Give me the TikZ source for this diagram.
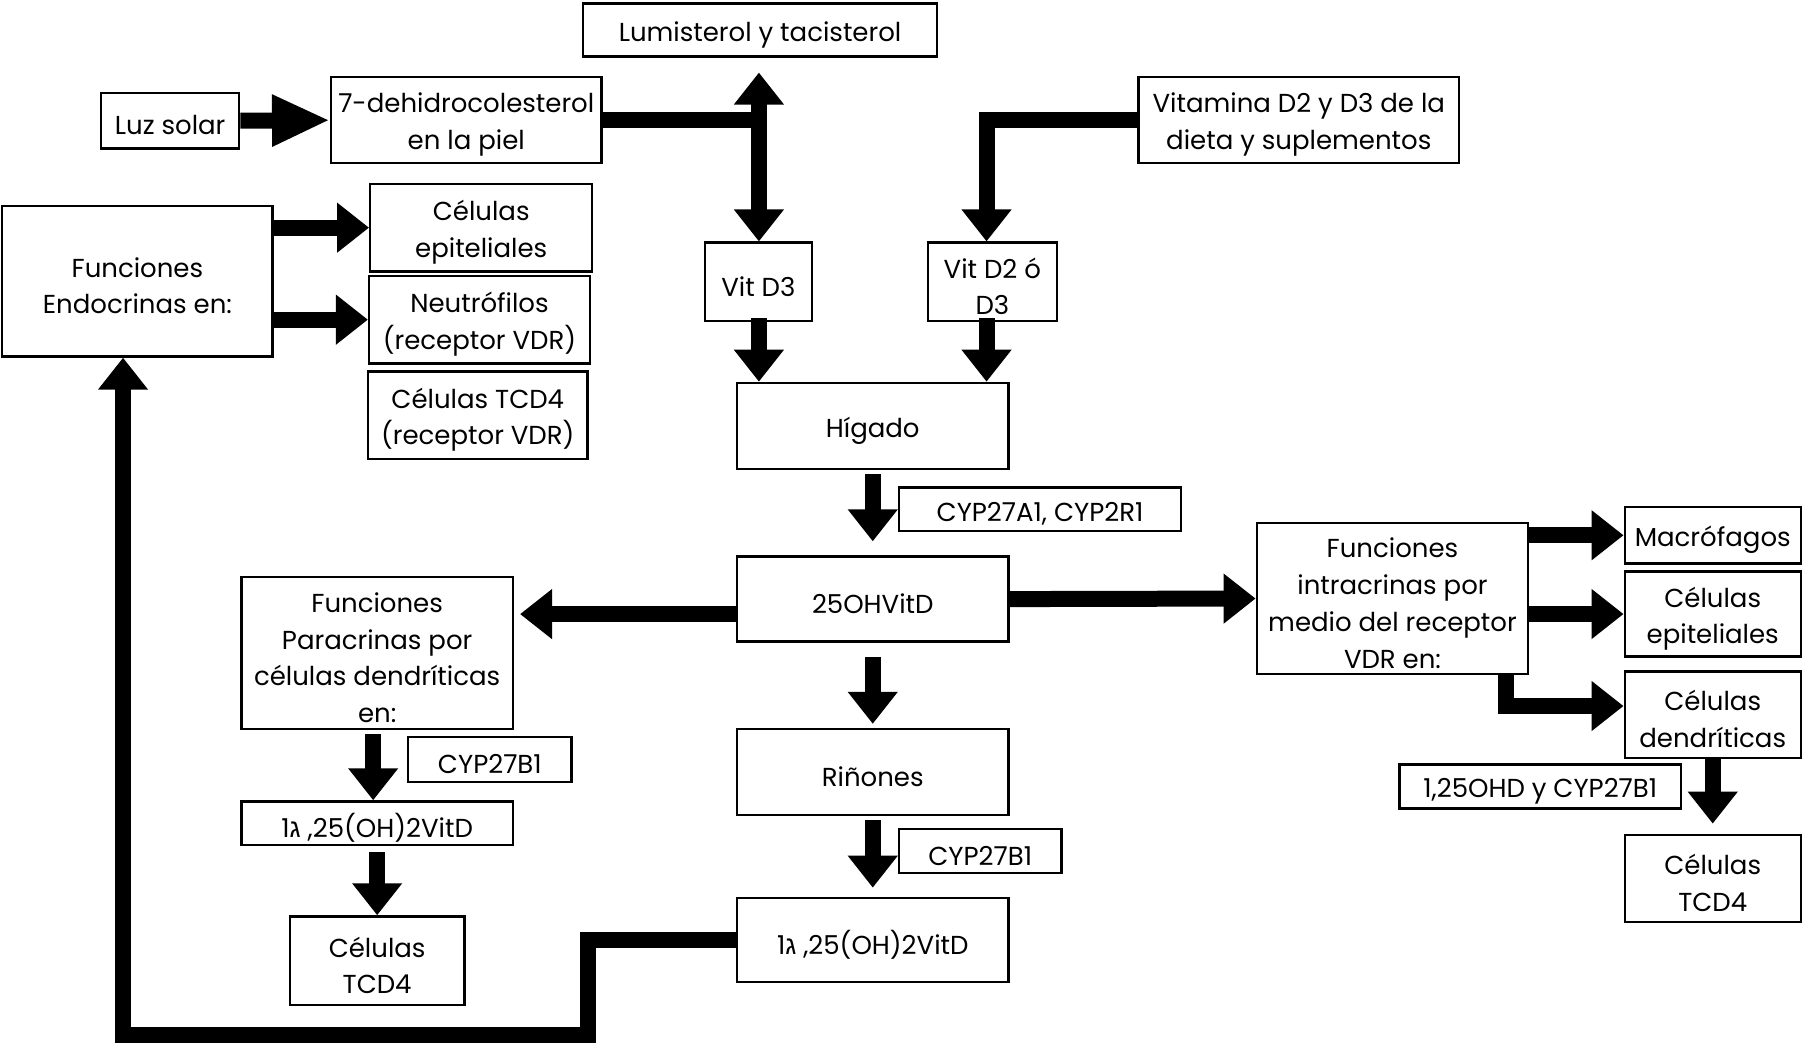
\documentclass[tikz,border=0pt]{standalone}
\usepackage{fontspec}
\setmainfont{Poppins}
\newfontfamily\hebfont[Script=Hebrew]{Liberation Sans}
\usetikzlibrary{arrows.meta}
\tikzset{
 box/.style={draw, line width=1.2pt, inner sep=0pt},
 txt/.style={inner sep=0pt, align=center, font=\fontsize{13pt}{18.4pt}\selectfont},
 arr/.style={line width=8pt, line join=miter, -{Triangle[width=24pt,length=16pt]}},
 arrlong/.style={line width=8pt, -{Triangle[width=24pt,length=29pt]}},
 dbl/.style={line width=8pt, {Triangle[width=24pt,length=16pt]}-{Triangle[width=24pt,length=16pt]}},
 shaft/.style={line width=8pt, line join=miter},
}
\newcommand\bx[6]{\node[box, minimum width={(#4-#2)*0.575pt}, minimum height={(#5-#3)*0.575pt}] (#1) at ({(#2+#4)/2},{(#3+#5)/2}) {};
\node[txt] (#1t) at ([yshift=-2.3pt]#1.center) {#6};}
\newcommand\lam{{\hebfont ג}}
\begin{document}
\begin{tikzpicture}[x=0.575pt,y=-0.575pt]
\fill[white] (0,0) rectangle (1568,922);
\useasboundingbox (0,0) rectangle (1568,922);
% boxes
\bx{lumi}{507}{3}{815}{49}{Lumisterol y tacisterol}
\bx{luz}{88}{81}{208}{129}{Luz solar}
\bx{dehi}{288}{67}{523}{142}{7-dehidrocolesterol\\en la piel}
\bx{vit}{990}{67}{1269}{142}{Vitamina D2 y D3 de la\\dieta y suplementos}
\bx{endo}{2}{179}{237}{310}{Funciones\\Endocrinas en:}
\bx{epA}{322}{160}{515}{236}{Células\\epiteliales}
\bx{neu}{321}{240}{513}{316}{Neutrófilos\\(receptor VDR)}
\bx{tcdA}{320}{323}{511}{399}{Células TCD4\\(receptor VDR)}
\bx{vdt}{613}{211}{706}{279}{Vit D3}
\bx{vdd}{807}{211}{919}{279}{Vit D2 ó\\D3}
\bx{hig}{641}{333}{877}{408}{Hígado}
\bx{cypa}{782}{424}{1027}{462}{CYP27A1, CYP2R1}
\bx{oh}{641}{484}{877}{558}{25OHVitD}
\bx{para}{210}{502}{446}{634}{Funciones\\Paracrinas por\\células dendríticas\\en:}
\bx{cypb}{355}{641}{497}{680}{CYP27B1}
\bx{dl}{210}{697}{446}{735}{1\lam\ ,25(OH)2VitD}
\bx{tcdL}{252}{797}{404}{874}{Células\\TCD4}
\bx{rin}{641}{634}{877}{709}{Riñones}
\bx{cypc}{782}{721}{923}{759}{CYP27B1}
\bx{dm}{641}{781}{877}{854}{1\lam\ ,25(OH)2VitD}
\bx{intr}{1093}{455}{1329}{586}{Funciones\\intracrinas por\\medio del receptor\\VDR en:}
\bx{mac}{1413}{441}{1566}{490}{Macrófagos}
\bx{epB}{1413}{497}{1566}{571}{Células\\epiteliales}
\bx{dc}{1413}{584}{1566}{659}{Células\\dendríticas}
\bx{cypd}{1217}{665}{1462}{703}{1,25OHD y CYP27B1}
\bx{tcdR}{1413}{726}{1566}{802}{Células\\TCD4}
% coordinates
\coordinate (j) at (660,104);
\coordinate (a1) at ([yshift=-7.5pt]oh.west);
\coordinate (c1) at (511,900);
\coordinate (c2) at (107,900);
\coordinate (c3) at (1310,614);
% arrows
\draw[arrlong] (luz.east) -- (dehi.west);
\draw[shaft] (dehi.east |- j) -- (j);
\draw[dbl, shorten <=7.5pt] (j |- lumi.south) -- (j |- vdt.north);
\draw[arr] (vit.west) -| ([xshift=-2.9pt]vdd.north);
\draw[arr, shorten <=-2pt] (j |- vdt.south) -- (j |- hig.north);
\draw[arr, shorten <=-2pt] ([xshift=-2.9pt]vdd.south) -- ([xshift=-2.9pt]vdd.south |- hig.north);
\draw[arr, shorten <=2pt, shorten >=7pt] (hig.south) -- (oh.north);
\draw[arr] (oh.east) -- (intr.west);
\draw[arr, shorten >=3pt] (a1) -- (a1 -| para.east);
\draw[arr, shorten <=7pt, shorten >=2pt] (oh.south) -- (rin.north);
\draw[arr, shorten <=2pt, shorten >=4.6pt] (rin.south) -- (dm.north);
\draw[arr, shorten <=2pt] ([xshift=-2pt]para.south) -- ([xshift=-2pt]para.south |- dl.north);
\draw[arr, shorten <=3pt] (dl.south) -- (tcdL.north);
\draw[arr] (dm.west) -| (c1) -- (c2) -- (c2 |- endo.south);
\draw[arr] (endo.east |- epA.west) -- (epA.west);
\draw[arr] (endo.east |- neu.west) -- (neu.west);
\draw[arr] (intr.east |- mac.west) -- (mac.west);
\draw[arr] (intr.east |- epB.west) -- (epB.west);
\draw[arr] (intr.south -| c3) |- (c3 -| dc.west);
\draw[arr, shorten >=5pt] (dc.south) -- (tcdR.north);
\end{tikzpicture}
\end{document}
